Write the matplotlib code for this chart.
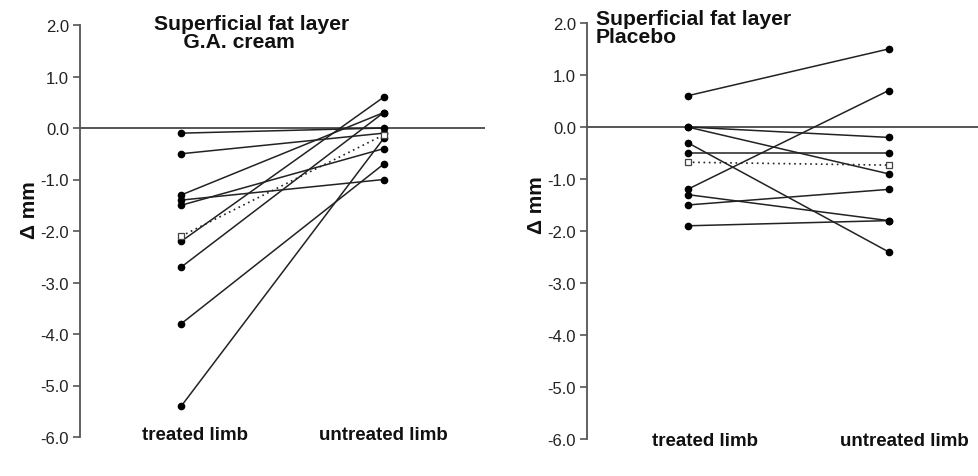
import numpy as np
import matplotlib
matplotlib.use('Agg')
import matplotlib.pyplot as plt
from matplotlib.ticker import FuncFormatter

plt.rcParams['font.family'] = ['Liberation Sans', 'DejaVu Sans']

# datos (delta mm por sujeto)
ga_treated = [-0.1, -0.5, -1.3, -1.4, -1.5, -2.2, -2.7, -3.8, -5.4]
ga_untreated = [0.0, -0.1, 0.3, -1.0, -0.4, 0.6, 0.3, -0.7, -0.2]

pl_treated = [0.6, 0.0, 0.0, -0.3, -0.5, -1.2, -1.3, -1.5, -1.9]
pl_untreated = [1.5, -0.2, -0.9, -2.4, -0.5, 0.7, -1.8, -1.2, -1.8]

yticks = [2.0, 1.0, 0.0, -1.0, -2.0, -3.0, -4.0, -5.0, -6.0]
xlabels = ['treated limb', 'untreated limb']
titles = ['Superficial fat layer\n     G.A. cream', 'Superficial fat layer\nPlacebo']

W, H = 979, 477
fig = plt.figure(figsize=(W / 100, H / 100), dpi=100)

def panel(rect, treated, untreated, title, title_xy, label_xy, xlab_y, xlab_off):
    ax = fig.add_axes(rect)
    ax.set_xlim(-0.5, 1.5)
    ax.set_ylim(-6.0, 2.0)
    ax.axhline(0, color='#555555', lw=1.4, zorder=1)
    for a, b in zip(treated, untreated):
        ax.plot([0, 1], [a, b], color='#222222', lw=1.1, marker='o',
                markersize=4.5, markerfacecolor='black', markeredgecolor='black', zorder=3)
    m1, m2 = np.mean(treated), np.mean(untreated)
    ax.plot([0, 1], [m1, m2], color='#222222', lw=1.2, ls=(0, (1, 2.2)), marker='s',
            markersize=5, markerfacecolor='white', markeredgecolor='#444444',
            markeredgewidth=0.9, zorder=4)
    for s in ['top', 'right', 'bottom']:
        ax.spines[s].set_visible(False)
    ax.spines['left'].set_color('#555555')
    ax.spines['left'].set_linewidth(1.3)
    ax.set_yticks(yticks)
    ax.yaxis.set_major_formatter(FuncFormatter(lambda v, p: ('%.1f' % v).replace('\u2212', '-')))
    ax.tick_params(axis='y', direction='out', length=5, width=1.2, color='#555555',
                   labelsize=12, labelcolor='#222222', pad=3)
    ax.set_xticks([])
    ax.patch.set_alpha(0)
    for i, lab in enumerate(xlabels):
        ax.text(i + xlab_off[i], xlab_y, lab, ha='center', va='center', fontsize=13.5,
                fontweight='bold', color='#111111', transform=ax.transData, clip_on=False)
    fig.text(title_xy[0] / W, 1 - title_xy[1] / H, title, ha='left', va='top',
             fontsize=15.2, fontweight='bold', color='#111111', linespacing=0.95)
    fig.text(label_xy[0] / W, 1 - label_xy[1] / H, '\u0394 mm', rotation=90, ha='center',
             va='center', fontsize=15, fontweight='bold', color='#111111')
    return ax

panel([80 / W, 1 - 438 / H, 405 / W, 412 / H], ga_treated, ga_untreated,
      titles[0], (154, 15), (30, 210), -5.95, (0.07, 0.0))
panel([587 / W, 1 - 440 / H, 402 / W, 416 / H], pl_treated, pl_untreated,
      titles[1], (596, 10), (536, 205), -6.02, (0.085, 0.08))

fig.savefig('out.png', dpi=100)
